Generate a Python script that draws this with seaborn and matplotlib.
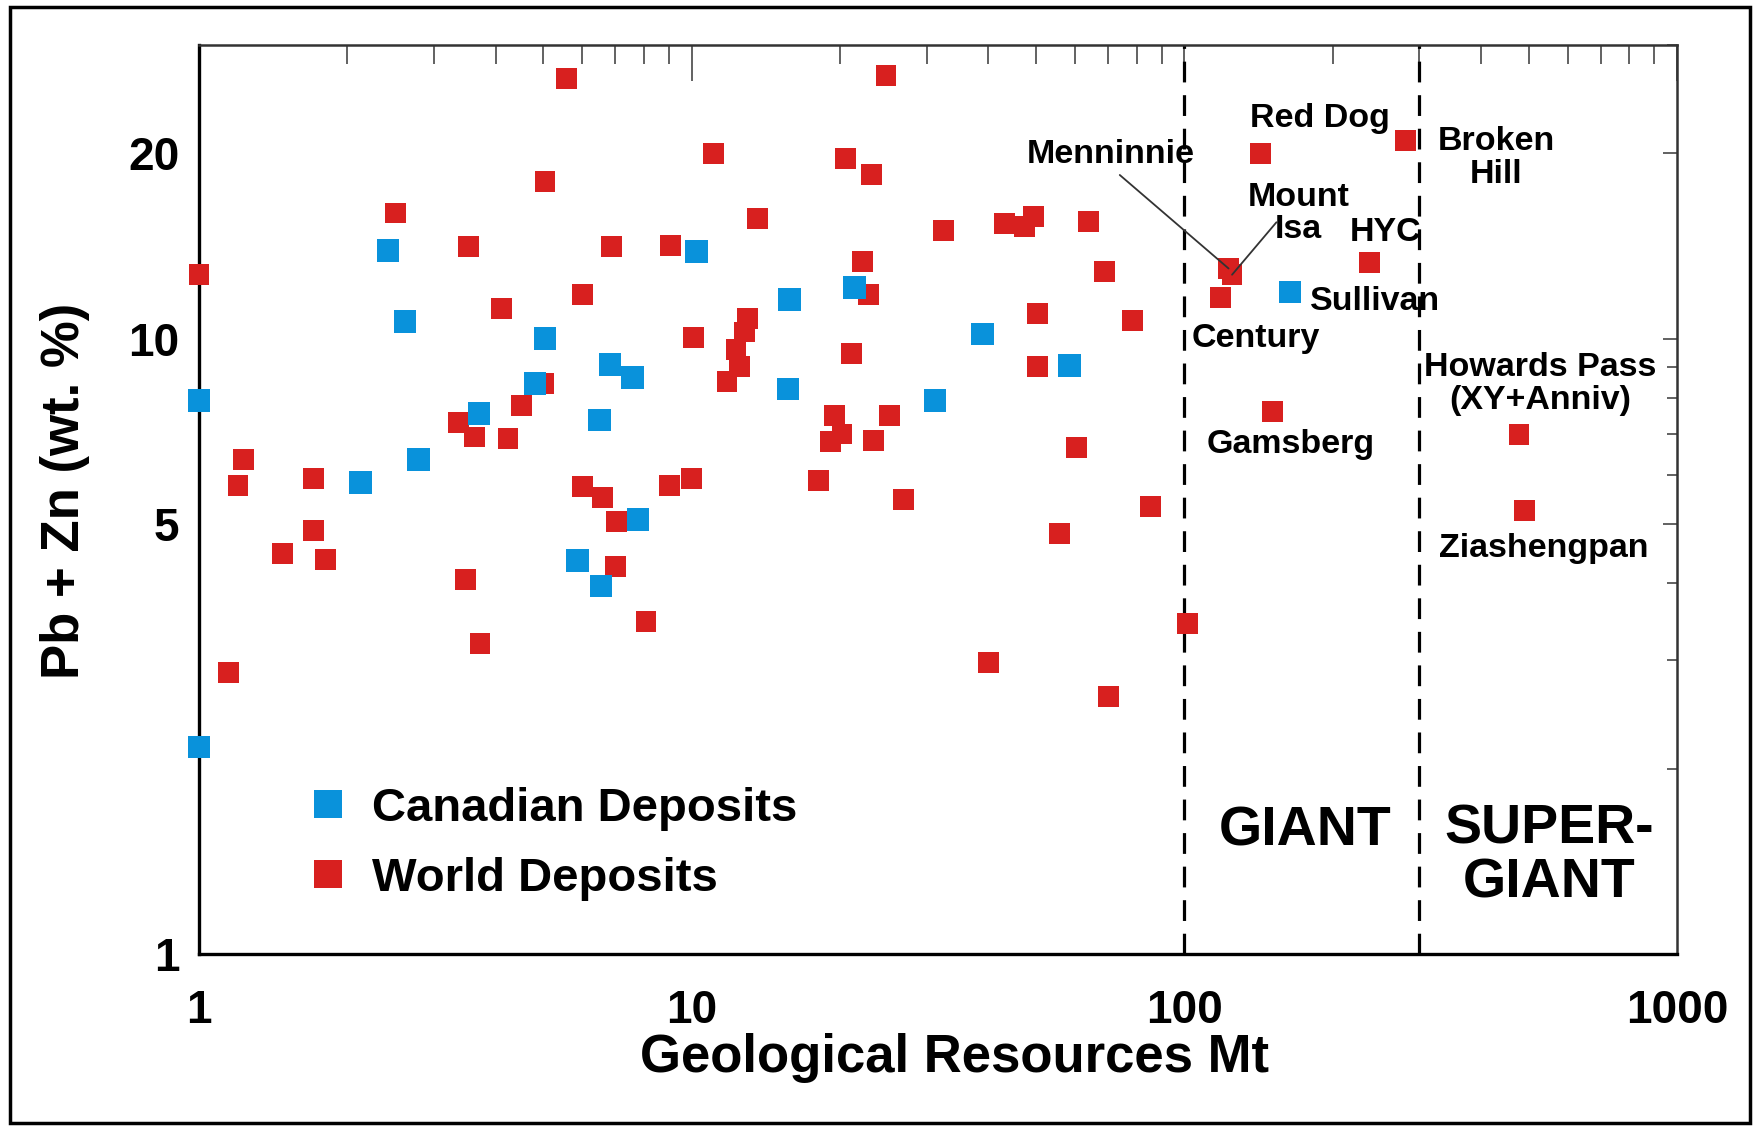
import matplotlib
matplotlib.use("Agg")
import matplotlib.pyplot as plt
import matplotlib.ticker as mticker
from matplotlib.lines import Line2D
from matplotlib.patches import Rectangle
import pandas as pd
import seaborn as sns

# ---------------------------------------
# Data (Mt, Pb+Zn wt.%)
# ---------------------------------------
world_mt = [1.0, 1.23, 1.20, 1.15, 1.48, 1.71, 1.71, 1.81, 2.51, 3.37,
            3.53, 3.63, 3.48, 3.72, 4.11, 4.24, 4.52, 5.04, 5.0, 5.57,
            6.0, 6.0, 6.59, 6.87, 7.05, 7.0, 8.08, 9.07, 9.0, 10.07,
            10.0, 11.06, 13.0, 12.8, 12.3, 12.5, 11.8, 13.6, 18.1, 19.1,
            19.5, 20.2, 20.5, 21.1, 22.2, 22.9, 23.2, 23.4, 24.8, 25.2,
            26.9, 32.4, 40.1, 43.2, 47.4, 49.5, 50.3, 50.3, 55.8, 60.4,
            64.0, 68.8, 70.3, 78.5, 85.3, 101.4,
            # Century, Menninnie, Mount Isa, Red Dog, Gamsberg, HYC,
            # Broken Hill, Howards Pass, Ziashengpan
            118.6, 123.0, 125.0, 143.0, 151.0, 238.0, 281.0, 478.0, 490.0]
world_grade = [12.7, 6.36, 5.78, 2.87, 4.48, 4.87, 5.93, 4.38, 16.0, 7.31,
               14.1, 6.92, 4.06, 3.20, 11.2, 6.89, 7.78, 18.0, 8.46, 26.5,
               11.8, 5.75, 5.52, 14.1, 5.05, 4.26, 3.47, 14.15, 5.78, 10.04,
               5.93, 20.0, 10.78, 10.25, 9.59, 9.0, 8.53, 15.65, 5.88, 6.8,
               7.49, 7.0, 19.6, 9.47, 13.35, 11.8, 18.5, 6.83, 26.8, 7.49,
               5.47, 15.0, 2.98, 15.4, 15.2, 15.8, 11.0, 9.0, 4.83, 6.66,
               15.5, 12.85, 2.62, 10.7, 5.34, 3.44,
               11.68, 13.0, 12.7, 20.0, 7.62, 13.3, 21.0, 6.98, 5.25]

# last one is Sullivan
canada_mt = [1.0, 1.0, 2.13, 2.42, 2.62, 2.79, 3.70, 4.81, 5.04, 5.87,
             6.55, 6.5, 6.83, 7.59, 7.79, 10.23, 15.8, 15.7, 21.4, 31.2,
             38.9, 58.5, 164.0]
canada_grade = [7.94, 2.17, 5.83, 13.9, 10.65, 6.36, 7.55, 8.46, 10.0, 4.36,
                3.96, 7.37, 9.08, 8.64, 5.08, 13.86, 11.58, 8.28, 12.12, 7.94,
                10.17, 9.04, 11.9]

groups = ["World Deposits", "Canadian Deposits"]
colors = {"World Deposits": "#d8201f", "Canadian Deposits": "#0992db"}
sizes = {"World Deposits": 225, "Canadian Deposits": 265}

x_ticks = [1, 10, 100, 1000]
y_ticks = [1, 5, 10, 20]
class_limits = [100, 300]

df = pd.DataFrame({
    "mt": world_mt + canada_mt,
    "grade": world_grade + canada_grade,
    "group": [groups[0]] * len(world_mt) + [groups[1]] * len(canada_mt),
})

sns.set_theme(style="white")
plt.rcParams["font.family"] = ["Liberation Sans", "DejaVu Sans"]
plt.rcParams["font.weight"] = "bold"
plt.rcParams["axes.labelweight"] = "bold"
plt.rcParams["text.color"] = "black"
plt.rcParams["axes.labelcolor"] = "black"
plt.rcParams["xtick.labelcolor"] = "black"
plt.rcParams["ytick.labelcolor"] = "black"

fig = plt.figure(figsize=(17.56, 11.28), dpi=100)
ax = fig.add_axes([0.1133, 0.1543, 0.8417, 0.8058])

sns.scatterplot(data=df, x="mt", y="grade", hue="group", palette=colors,
                size="group", sizes=sizes, marker="s", linewidth=0,
                legend=False, clip_on=False, zorder=3, ax=ax)

ax.set_xscale("log")
ax.set_yscale("log")
ax.set_xlim(1, 1000)
ax.set_ylim(1, 30)

ax.set_xticks(x_ticks, [str(t) for t in x_ticks])
ax.set_yticks(y_ticks, [str(t) for t in y_ticks])
ax.xaxis.set_minor_locator(mticker.LogLocator(base=10, subs=range(2, 10)))
ax.yaxis.set_minor_locator(mticker.FixedLocator([2, 3, 4, 6, 7, 8, 9, 30]))
ax.xaxis.set_minor_formatter(mticker.NullFormatter())
ax.yaxis.set_minor_formatter(mticker.NullFormatter())

ax.tick_params(axis="x", which="major", direction="in", length=26, width=1.3,
               color="#555555", pad=25, labelsize=33, top=True)
ax.tick_params(axis="x", which="minor", direction="in", length=14, width=1.3,
               color="#555555", top=True)
ax.tick_params(axis="y", which="major", direction="in", length=10, width=1.3,
               color="#555555", pad=14, labelsize=33, right=True)
ax.tick_params(axis="y", which="minor", direction="in", length=7, width=1.3,
               color="#555555", right=True)

for side in ["left", "bottom"]:
    ax.spines[side].set_linewidth(2.4)
    ax.spines[side].set_color("black")
for side in ["top", "right"]:
    ax.spines[side].set_linewidth(1.8)
    ax.spines[side].set_color("#333333")

ax.set_xlabel("Geological Resources Mt", fontsize=38)
ax.set_ylabel("Pb + Zn (wt. %)", fontsize=38)
ax.xaxis.set_label_coords(0.511, -0.1144)
ax.xaxis.label.set_va("center")
ax.yaxis.set_label_coords(-0.0907, 0.51)
ax.yaxis.label.set_va("center")

# GIANT / SUPER-GIANT limits
for lim in class_limits:
    ax.axvline(lim, color="black", lw=2.3, dashes=(6.5, 4), zorder=2)

# deposit names
lab = dict(fontsize=24.5, ha="center", va="center", transform=ax.transAxes,
           linespacing=1.05, zorder=4)
ax.text(0.7585, 0.9186, "Red Dog", **lab)
ax.text(0.617, 0.879, "Menninnie", **lab)
ax.text(0.744, 0.815, "Mount\nIsa", **lab)
ax.text(0.8025, 0.794, "HYC", **lab)
ax.text(0.8775, 0.8757, "Broken\nHill", **lab)
ax.text(0.7957, 0.7173, "Sullivan", **lab)
ax.text(0.7152, 0.6766, "Century", **lab)
ax.text(0.7388, 0.560, "Gamsberg", **lab)
ax.text(0.9073, 0.627, "Howards Pass\n(XY+Anniv)", **lab)
ax.text(0.910, 0.4466, "Ziashengpan", **lab)
ax.text(0.7483, 0.1342, "GIANT", fontsize=40, ha="center", va="center",
        transform=ax.transAxes)
ax.text(0.9134, 0.1067, "SUPER-\nGIANT", fontsize=40, ha="center",
        va="center", linespacing=1.05, transform=ax.transAxes)

# leader lines for Menninnie and Mount Isa
leader = dict(arrowstyle="-", color="#333333", lw=1.3, shrinkA=0, shrinkB=0)
ax.annotate("", xy=(world_mt[67], world_grade[67]), xytext=(0.623, 0.857),
            textcoords="axes fraction", arrowprops=leader)
ax.annotate("", xy=(world_mt[68], world_grade[68]), xytext=(0.729, 0.805),
            textcoords="axes fraction", arrowprops=leader)

handles = [Line2D([], [], marker="s", linestyle="", markersize=20,
                  markerfacecolor=colors[g], markeredgewidth=0)
           for g in ["Canadian Deposits", "World Deposits"]]
ax.legend(handles, ["Canadian Deposits", "World Deposits"], loc="center left",
          bbox_to_anchor=(0.0714, 0.121), frameon=False,
          prop={"size": 34, "weight": "bold"}, handlelength=1.0,
          handletextpad=0.44, labelspacing=0.55, borderpad=0,
          borderaxespad=0, labelcolor="black")

# outer frame of the figure
fig.patches.append(Rectangle((10 / 1756, 5 / 1128), 1740 / 1756, 1116 / 1128,
                             transform=fig.transFigure, fill=False,
                             edgecolor="black", linewidth=2.5))

fig.savefig("out.png", dpi=100)
